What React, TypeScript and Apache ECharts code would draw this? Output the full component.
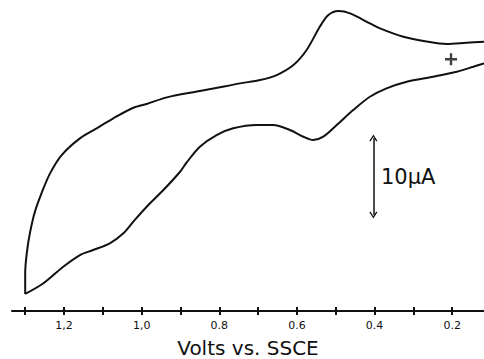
import React, { useEffect, useRef } from "react";
import * as echarts from "echarts";

// Cyclic voltammogram, potential in V vs. SSCE, current in µA (arbitrary zero)
const upperVolts = [0.118, 0.163, 0.214, 0.266, 0.326, 0.386, 0.412, 0.463, 0.493, 0.519, 0.541, 0.575, 0.609, 0.652, 0.695, 0.747, 0.781, 0.85, 0.935, 0.987, 1.0215, 1.073, 1.116, 1.159, 1.206, 1.236, 1.258, 1.275, 1.288, 1.296, 1.3, 1.3];
const upperCurrent = [34.97, 34.84, 34.68, 35.0, 35.62, 36.71, 37.36, 38.66, 38.96, 38.44, 36.92, 33.9, 31.95, 30.65, 30.0, 29.57, 29.22, 28.57, 27.75, 26.9, 26.4, 25.03, 23.73, 22.43, 20.26, 17.88, 15.29, 12.9, 10.09, 7.49, 4.9, 2.21];
const lowerVolts = [1.3, 1.253, 1.202, 1.159, 1.125, 1.082, 1.047, 1.0215, 0.987, 0.944, 0.901, 0.884, 0.85, 0.807, 0.764, 0.704, 0.661, 0.618, 0.5835, 0.558, 0.532, 0.4975, 0.455, 0.412, 0.369, 0.317, 0.249, 0.188, 0.1455, 0.118];
const lowerCurrent = [2.21, 3.6, 5.75, 7.27, 7.92, 8.79, 10.09, 11.6, 13.55, 15.71, 18.09, 19.3, 21.34, 22.86, 23.73, 24.16, 24.16, 23.51, 22.64, 22.21, 22.64, 24.16, 26.1, 27.83, 28.92, 29.78, 30.43, 31.08, 31.73, 32.17];

const tickValues = [0.2, 0.3, 0.4, 0.5, 0.6, 0.7, 0.8, 0.9, 1.0, 1.1, 1.2, 1.3];
const labelValues = [0.2, 0.4, 0.6, 0.8, 1.0, 1.2];
const labelTexts = ["0.2", "0.4", "0.6", "0.8", "1,0", "1,2"];

const startPoint = [0.203, 32.7];
const scaleBarVolts = 0.403;
const scaleBarCurrent = [12.47, 22.47];
const scaleBarText = "10µA";
const axisTitle = "Volts vs. SSCE";

const xMin = 0.118;
const xMax = 1.334;

const INK = "#111";
const FONT = "DejaVu Sans";
const chevron = "path://M5,0 L10,9 L8.6,10 L5,3.2 L1.4,10 L0,9 Z";
const plus = "path://M4,0 H6 V4 H10 V6 H6 V10 H4 V6 H0 V4 H4 Z";

export default function App() {
  const ref = useRef<HTMLDivElement>(null);
  useEffect(() => {
    document.body.style.margin = "0";
    const chart = echarts.init(ref.current!, null, { renderer: "svg" });
    const upper = upperVolts.map((v, i) => [v, upperCurrent[i]]);
    const lower = lowerVolts.map((v, i) => [v, lowerCurrent[i]]);
    const baseX = {
      type: "value",
      min: xMin,
      max: xMax,
      inverse: true,
      position: "bottom",
      gridIndex: 0,
      splitLine: { show: false },
    };
    chart.setOption({
      animation: false,
      backgroundColor: "#fff",
      grid: { left: 12, right: 0, top: 0, bottom: 48, containLabel: false, outerBoundsMode: "none" },
      xAxis: [
        {
          ...baseX,
          axisLine: { show: true, lineStyle: { color: INK, width: 2 } },
          axisTick: { show: true, inside: false, length: 4, lineStyle: { color: INK, width: 2 }, customValues: tickValues },
          axisLabel: {
            show: true,
            customValues: labelValues,
            margin: 9,
            fontSize: 11,
            fontFamily: FONT,
            color: INK,
            formatter: (val: number) => {
              const k = labelValues.findIndex((x) => Math.abs(x - val) < 1e-6);
              return k >= 0 ? labelTexts[k] : "";
            },
          },
          name: axisTitle,
          nameLocation: "middle",
          nameGap: 27,
          nameTextStyle: { fontSize: 20, lineHeight: 20, fontFamily: FONT, color: INK },
        },
        {
          ...baseX,
          axisLine: { show: false },
          axisTick: { show: true, inside: true, length: 4, lineStyle: { color: INK, width: 2 }, customValues: tickValues },
          axisLabel: { show: false },
        },
      ],
      yAxis: { type: "value", min: 0, max: 40.4, show: false },
      series: [
        {
          type: "line",
          data: upper,
          smooth: 0.3,
          showSymbol: false,
          lineStyle: { color: INK, width: 2 },
        },
        {
          type: "line",
          data: lower,
          smooth: 0.3,
          showSymbol: false,
          lineStyle: { color: INK, width: 2 },
          markLine: {
            silent: true,
            symbol: [chevron, chevron],
            symbolSize: [8, 7],
            lineStyle: { color: INK, width: 1.5, type: "solid" },
            label: { show: false },
            data: [[{ coord: [scaleBarVolts, scaleBarCurrent[0]] }, { coord: [scaleBarVolts, scaleBarCurrent[1]] }]],
          },
        },
        {
          type: "scatter",
          data: [startPoint],
          symbol: plus,
          symbolSize: 12,
          itemStyle: { color: INK },
        },
      ],
      graphic: [
        {
          type: "text",
          x: 381,
          y: 177,
          style: { text: scaleBarText, fontSize: 21, fontFamily: FONT, fill: INK, align: "left", verticalAlign: "middle" },
        },
      ],
    });
    return () => chart.dispose();
  }, []);
  return <div ref={ref} style={{ width: 484, height: 359 }} />;
}
